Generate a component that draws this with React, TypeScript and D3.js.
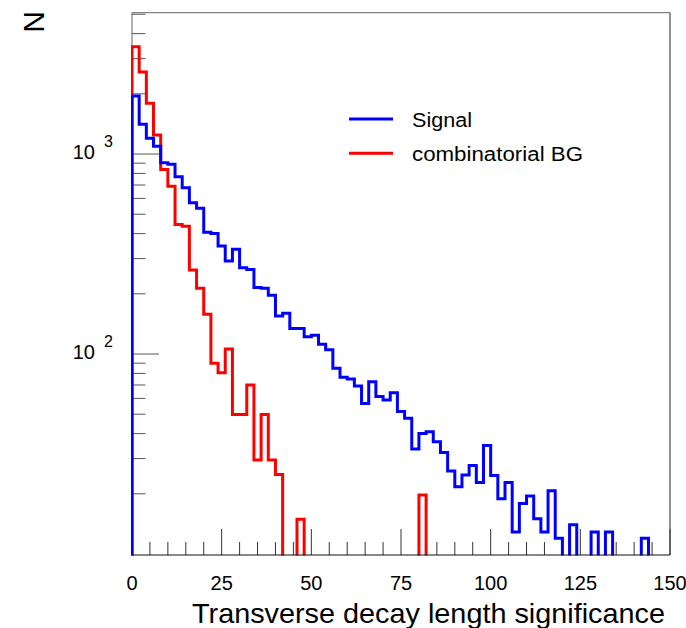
import React from "react";
import * as d3 from "d3";

// ---- data (bin width 2, range 0..150) ----
const BIN_WIDTH = 2;
const X_TICK_LABELS = [0, 25, 50, 75, 100, 125, 150];
const Y_MAJOR = [100, 1000];
const Y_MINOR = [20, 30, 40, 50, 60, 70, 80, 90, 200, 300, 400, 500, 600, 700, 800, 900, 2000, 3000, 4000, 5000];

const signal = [
  1950, 1410, 1200, 1095, 905, 888, 770, 678, 570, 535,
  406, 401, 347, 292, 334, 270, 265, 215, 213, 197,
  155, 160, 134, 134, 122, 124, 112, 105, 85, 76.5,
  75, 69.2, 56.6, 72.7, 61.3, 58.9, 64.1, 51.6, 47.7, 33.5,
  40.1, 40.9, 36.4, 32.2, 26.0, 21.7, 24.8, 27.7, 22.8, 34.9,
  24.7, 18.9, 22.8, 12.9, 17.9, 19.5, 15.0, 12.9, 20.7, 12.0,
  0, 14.0, 0, 0, 12.9, 0, 12.9, 0, 0, 0,
  0, 12.0, 0, 0, 0,
];

const background = [
  3440, 2570, 1793, 1245, 836, 690, 444, 435, 263, 213,
  158, 89.8, 80.6, 106, 49.9, 49.9, 70, 29.5, 49.9, 29.5,
  25.0, 0, 0, 14.9, 0, 0, 0, 0, 0, 0,
  0, 0, 0, 0, 0, 0, 0, 0, 0, 0,
  19.7, 0, 0, 0, 0, 0, 0, 0, 0, 0,
  0, 0, 0, 0, 0, 0, 0, 0, 0, 0,
  0, 0, 0, 0, 0, 0, 0, 0, 0, 0,
  0, 0, 0, 0, 0,
];

const legendItems = [
  { label: "Signal", color: "#0000ff" },
  { label: "combinatorial BG", color: "#ff0000" },
];

const X_TITLE = "Transverse decay length significance";
const Y_TITLE = "N";

// ---- layout ----
const W = 686;
const H = 628;
const L = 132;
const R = 670;
const T = 12.7;
const B = 555;
const Y_MIN = 9.886;
const Y_MAX = 5090;

export default function App() {
  const x = d3.scaleLinear().domain([0, 150]).range([L, R]);
  const y = d3.scaleLog().domain([Y_MIN, Y_MAX]).range([B, T]);
  const yv = (v: number) => (v > 0 ? y(v) : B + 3);

  const histPath = (vals: number[]) => {
    const pts: [number, number][] = [[x(0), B + 3]];
    vals.forEach((v, i) => {
      pts.push([x(i * BIN_WIDTH), yv(v)]);
      pts.push([x((i + 1) * BIN_WIDTH), yv(v)]);
    });
    pts.push([x(vals.length * BIN_WIDTH), B + 3]);
    return d3.line()(pts) || "";
  };

  const xMinor = d3.range(0, 151, 5).filter((v) => v % 25 !== 0);
  const tickColor = "#333";
  const font = "'Liberation Sans', Arial, Helvetica, sans-serif";

  return (
    <svg
      width={W}
      height={H}
      style={{ position: "absolute", left: 0, top: 0, display: "block", background: "#fff" }}
      fontFamily={font}
    >
      <defs>
        <clipPath id="frameClip">
          <rect x={L - 1} y={T} width={R - L + 1} height={B - T + 0.5} />
        </clipPath>
      </defs>
      <rect x={0} y={0} width={W} height={H} fill="#fff" />

      {/* frame */}
      <line x1={L} x2={R} y1={T} y2={T} stroke="#666" strokeWidth={1} />
      <line x1={R} x2={R} y1={T} y2={B} stroke="#222" strokeWidth={1} />
      <line x1={L} x2={L} y1={T} y2={B} stroke="#666" strokeWidth={1} />

      {/* y ticks */}
      {Y_MAJOR.map((v) => (
        <line key={"ym" + v} x1={L} x2={L + 27} y1={y(v)} y2={y(v)} stroke="#555" strokeWidth={1} />
      ))}
      {Y_MINOR.map((v) => (
        <line key={"yn" + v} x1={L} x2={L + 13.5} y1={y(v)} y2={y(v)} stroke="#555" strokeWidth={1} />
      ))}

      {/* x ticks */}
      {X_TICK_LABELS.map((v) => (
        <line key={"xm" + v} x1={x(v)} x2={x(v)} y1={B} y2={B - 26} stroke={tickColor} strokeWidth={1} />
      ))}
      {xMinor.map((v) => (
        <line key={"xn" + v} x1={x(v)} x2={x(v)} y1={B} y2={B - 13} stroke={tickColor} strokeWidth={1} />
      ))}

      {/* histograms */}
      <g clipPath="url(#frameClip)">
        <path d={histPath(background)} fill="none" stroke="#ff0000" strokeWidth={3} strokeLinejoin="miter" />
        <path d={histPath(signal)} fill="none" stroke="#0000ff" strokeWidth={3} strokeLinejoin="miter" />
      </g>

      {/* bottom axis line */}
      <line x1={L} x2={R} y1={B} y2={B} stroke="#111" strokeWidth={1.2} />

      {/* x tick labels */}
      {X_TICK_LABELS.map((v) => (
        <text key={"xl" + v} x={x(v)} y={589.5} fontSize={20} textAnchor="middle" fill="#000">
          {v}
        </text>
      ))}

      {/* y tick labels */}
      {Y_MAJOR.map((v) => (
        <g key={"yl" + v}>
          <text x={95} y={y(v) + 5} fontSize={20} textAnchor="end" fill="#000">
            10
          </text>
          <text x={104} y={y(v) - 7} fontSize={16} textAnchor="start" fill="#000">
            {Math.round(Math.log10(v))}
          </text>
        </g>
      ))}

      {/* axis titles */}
      <text x={192} y={623} fontSize={28} textLength={473} lengthAdjust="spacingAndGlyphs" fill="#000">
        {X_TITLE}
      </text>
      <text transform="translate(43.5,11) rotate(-90)" fontSize={30} textAnchor="end" fill="#000">
        {Y_TITLE}
      </text>

      {/* legend */}
      {legendItems.map((it, i) => (
        <g key={it.label}>
          <line x1={349} x2={393} y1={119 + i * 34.3} y2={119 + i * 34.3} stroke={it.color} strokeWidth={3} />
          <text
            x={412}
            y={126.7 + i * 34.3}
            fontSize={20}
            fill="#000"
            textLength={i === 0 ? 60 : 171}
            lengthAdjust="spacingAndGlyphs"
          >
            {it.label}
          </text>
        </g>
      ))}
    </svg>
  );
}
